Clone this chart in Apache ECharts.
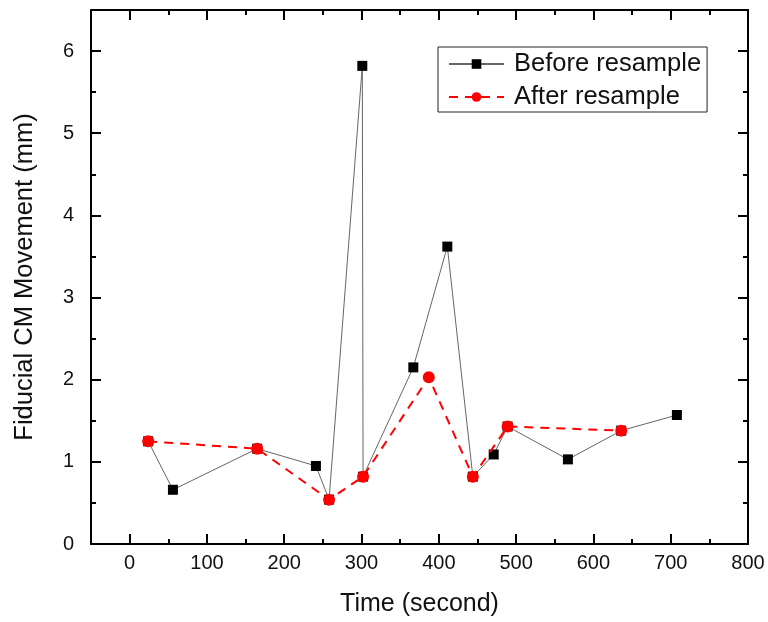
<!DOCTYPE html>
<html>
<head>
<meta charset="utf-8">
<script src="https://cdn.jsdelivr.net/npm/echarts@6/dist/echarts.min.js"></script>
<style>html,body{margin:0;padding:0;background:#fff}#c{width:768px;height:622px}</style>
</head>
<body>
<div id="c"></div>
<script>
const xTicks = [0, 100, 200, 300, 400, 500, 600, 700, 800];
const yTicks = [0, 1, 2, 3, 4, 5, 6];
const beforeTime  = [24, 56, 165, 241, 258, 301, 302, 367, 411, 444, 471, 489, 567, 636, 708];
const beforeValue = [1.25, 0.66, 1.16, 0.95, 0.54, 5.82, 0.82, 2.15, 3.62, 0.82, 1.09, 1.43, 1.03, 1.38, 1.57];
const afterTime  = [24, 165, 258, 302, 387, 444, 489, 636];
const afterValue = [1.25, 1.16, 0.54, 0.82, 2.03, 0.82, 1.43, 1.38];

const FONT = 'Arial, "Liberation Sans", sans-serif';
const X_MIN = -50, X_MAX = 800, Y_MIN = 0, Y_MAX = 6.5;
const lineBlack = { color: '#000', width: 2 };

function xAxisDef(pos, major, showLine, withLabel) {
  return {
    type: 'value', position: pos, min: X_MIN, max: X_MAX, interval: 50,
    axisLine: { show: showLine, onZero: false, lineStyle: lineBlack },
    axisTick: major ? { show: true, inside: true, length: 10, customValues: xTicks, lineStyle: lineBlack }
                    : { show: true, inside: true, length: 5, lineStyle: lineBlack },
    axisLabel: withLabel ? { show: true, customValues: xTicks, color: '#111', fontSize: 20, fontFamily: FONT, margin: 9 }
                         : { show: false },
    splitLine: { show: false },
    name: withLabel ? 'Time (second)' : '',
    nameLocation: 'middle', nameGap: 48,
    nameTextStyle: { color: '#111', fontSize: 25, fontFamily: FONT }
  };
}
function yAxisDef(pos, major, showLine, withLabel) {
  return {
    type: 'value', position: pos, min: Y_MIN, max: Y_MAX, interval: 0.5,
    axisLine: { show: showLine, onZero: false, lineStyle: lineBlack },
    axisTick: major ? { show: true, inside: true, length: 10, customValues: yTicks, lineStyle: lineBlack }
                    : { show: true, inside: true, length: 5, lineStyle: lineBlack },
    axisLabel: withLabel ? { show: true, customValues: yTicks, color: '#111', fontSize: 20, fontFamily: FONT, margin: 17 }
                         : { show: false },
    splitLine: { show: false },
    name: withLabel ? 'Fiducial CM Movement (mm)' : '',
    nameLocation: 'middle', nameGap: 53,
    nameTextStyle: { color: '#111', fontSize: 25.5, fontFamily: FONT }
  };
}

const chart = echarts.init(document.getElementById('c'), null, { renderer: 'canvas' });
chart.setOption({
  backgroundColor: '#fff',
  animation: false,
  grid: { left: 91, top: 10, right: 20, bottom: 78, containLabel: false },
  xAxis: [
    xAxisDef('bottom', false, true, true),
    xAxisDef('bottom', true, false, false),
    xAxisDef('top', false, true, false),
    xAxisDef('top', true, false, false)
  ],
  yAxis: [
    yAxisDef('left', false, true, true),
    yAxisDef('left', true, false, false),
    yAxisDef('right', false, true, false),
    yAxisDef('right', true, false, false)
  ],
  legend: {
    orient: 'vertical', left: 438, top: 47,
    padding: [4, 6, 2, 10], itemGap: 7,
    itemWidth: 55, itemHeight: 12,
    borderColor: '#222', borderWidth: 1,
    textStyle: { color: '#111', fontSize: 25.5, fontFamily: FONT, padding: [0, 0, 0, 5] },
    data: ['Before resample', 'After resample']
  },
  series: [
    {
      name: 'Before resample', type: 'line', xAxisIndex: 0, yAxisIndex: 0,
      data: beforeTime.map((t, i) => [t, beforeValue[i]]),
      symbol: 'rect', symbolSize: 10,
      itemStyle: { color: '#000' },
      lineStyle: { color: '#666', width: 1 },
      z: 2
    },
    {
      name: 'After resample', type: 'line', xAxisIndex: 0, yAxisIndex: 0,
      data: afterTime.map((t, i) => [t, afterValue[i]]),
      symbol: 'circle', symbolSize: 12,
      itemStyle: { color: '#ff0000' },
      lineStyle: { color: '#ff0000', width: 2, type: [9, 7] },
      z: 3
    }
  ]
});
</script>
</body>
</html>
